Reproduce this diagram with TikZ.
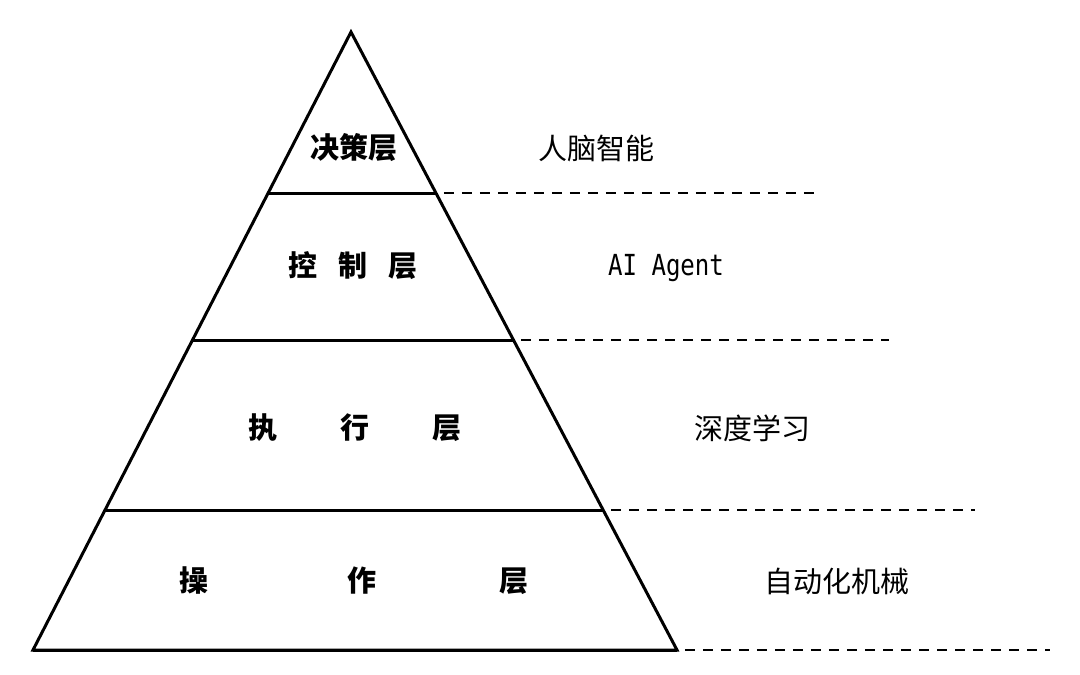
\documentclass[tikz,border=0pt]{standalone}
\usepackage{fontspec}
\setmainfont{Noto Sans CJK SC}
\newfontfamily\agentfont{DejaVu Sans Mono}[FakeStretch=0.83]

\begin{document}
\begin{tikzpicture}[x=1pt,y=-1pt,
    layer/.style={font=\fontsize{29}{29}\selectfont\bfseries},
    tag/.style={font=\fontsize{29}{29}\selectfont},
    edge/.style={line width=3pt},
    guide/.style={line width=2.8pt, dash pattern=on 10pt off 8pt}]
    \useasboundingbox (0,0) rectangle (1080,675);
    % pyramid
    \coordinate (top) at (351,32);
    \coordinate (bl) at (33,650);
    \coordinate (br) at (677,650);
    \draw[edge, line join=miter] (bl) -- (top) -- (br) -- cycle;
    % layer borders and guide lines
    \foreach \y/\xe [count=\i] in {193/815, 340/889, 510/975, 650/1050} {
        \pgfmathsetmacro{\xl}{351-(318/618)*(\y-32)}
        \pgfmathsetmacro{\xr}{351+(326/618)*(\y-32)}
        \coordinate (lb\i) at (\xl,\y);
        \coordinate (rb\i) at (\xr,\y);
        \coordinate (ge\i) at (\xe,\y);
        \draw[edge] (lb\i) -- (rb\i);
        \draw[guide] ([xshift=8pt]rb\i) -- (ge\i);
    }
    % layer names
    \node[layer] (decide) at (354,148) {决策层};
    \node[layer] (control) at (353,266) {控\hspace{21pt}制\hspace{21pt}层};
    \node[layer] (execute) at (355,428) {执\hspace{63pt}行\hspace{63pt}层};
    \node[layer] (operate) at (354,581) {操\hspace{139pt}作\hspace{123pt}层};
    % tags
    \node[tag] (brain) at (596,148) {人脑智能};
    \node[tag, font=\fontsize{29}{29}\agentfont] (agent) at (666,268) {AI Agent};
    \node[tag] (deep) at (752,428) {深度学习};
    \node[tag] (machine) at (837,581) {自动化机械};
\end{tikzpicture}
\end{document}
